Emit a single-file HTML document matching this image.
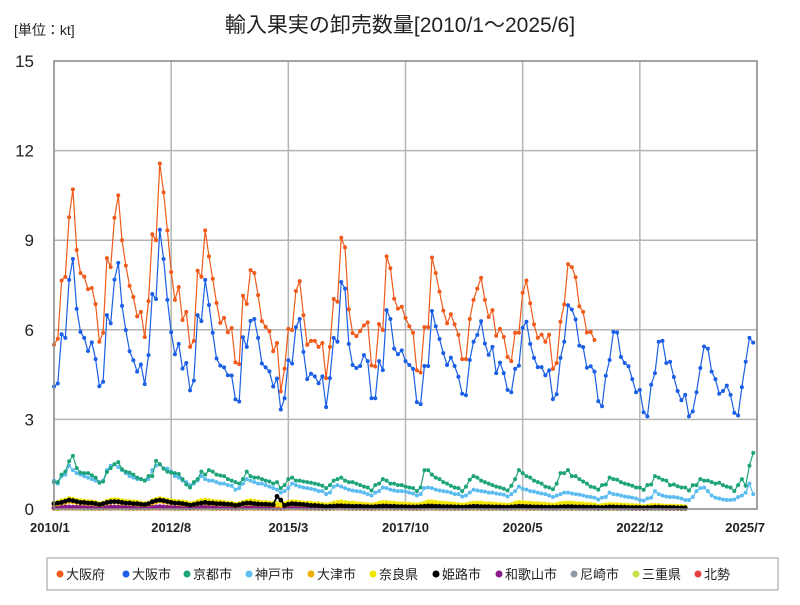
<!DOCTYPE html>
<html><head><meta charset="utf-8">
<style>
body{margin:0;background:#fff;width:800px;height:600px;overflow:hidden;font-family:"Liberation Sans","Noto Sans CJK JP",sans-serif;}
svg text{font-family:"Liberation Sans","Noto Sans CJK JP",sans-serif;}
</style></head>
<body>
<svg id="chart" width="800" height="600" xmlns="http://www.w3.org/2000/svg">
<text x="14" y="35" font-size="14" fill="#222">[単位：kt]</text>
<text x="400" y="32" font-size="21" text-anchor="middle" fill="#222">輸入果実の卸売数量[2010/1～2025/6]</text>
<g id="grid"></g>
<g id="series"></g>
<g id="axes"></g>
<g id="legend"></g>
</svg>
<script>
const seriesNames=["大阪府","大阪市","京都市","神戸市","大津市","奈良県","姫路市","和歌山市","尼崎市","三重県","北勢"];
const seriesColors=["#f05a1a","#1a5fe6","#1ea47a","#5cbcf0","#f0b000","#f2e600","#000000","#8a1a8a","#8c9aa8","#c6e04a","#e84040"];
const yTicks=[0,3,6,9,12,15];
const xTickLabels=["2010/1","2012/8","2015/3","2017/10","2020/5","2022/12","2025/7"];
const xTickIdx=[0,31,62,93,124,155,186];
const osakaFu=[5.5,5.7,7.65,7.77,9.77,10.7,8.67,7.9,7.78,7.36,7.4,6.86,
5.6,5.9,8.4,8.1,9.75,10.5,9.0,8.15,7.47,7.1,6.45,6.6,
5.76,6.96,9.2,9.0,11.57,10.6,9.33,7.93,7.0,7.43,6.33,6.6,
5.43,5.63,7.98,7.77,9.33,8.46,7.71,6.9,6.23,6.4,5.92,6.06,
4.91,4.85,7.14,6.87,8.0,7.9,7.16,6.29,6.1,5.95,5.28,5.56,
3.94,4.7,6.03,5.99,7.3,7.63,6.49,5.5,5.63,5.63,5.43,5.56,
4.38,5.43,7.03,6.94,9.08,8.76,6.69,5.89,5.79,5.96,6.15,6.25,
4.81,4.77,6.19,5.99,8.46,8.06,7.04,6.71,6.77,6.4,6.12,5.9,
4.64,4.57,6.09,6.09,8.42,7.9,7.28,6.64,6.22,6.52,6.18,5.83,
5.02,5.02,6.36,7.0,7.38,7.74,7.0,6.43,6.66,5.8,6.03,5.76,
5.09,4.95,5.9,5.9,7.24,7.65,6.89,6.18,5.73,5.84,5.6,5.84,
4.69,4.89,6.27,6.85,8.2,8.1,7.76,6.79,6.6,5.91,5.93,5.66];
const osakaShi=[4.1,4.2,5.85,5.73,7.67,8.37,6.7,5.93,5.73,5.29,5.58,5.02,
4.11,4.26,6.49,6.22,7.68,8.24,6.8,5.99,5.28,4.98,4.6,4.84,
4.18,5.15,7.2,7.03,9.35,8.37,7.0,5.92,5.18,5.53,4.7,4.89,
3.97,4.3,6.49,6.29,7.67,6.83,5.9,5.04,4.8,4.74,4.48,4.47,
3.67,3.6,5.75,5.43,6.3,6.36,5.73,4.87,4.74,4.61,4.1,4.37,
3.33,3.71,4.98,4.87,6.09,6.36,5.26,4.35,4.53,4.44,4.21,4.44,
3.41,4.38,5.73,5.6,7.6,7.38,5.53,4.82,4.72,4.79,5.15,4.95,
3.71,3.71,4.95,4.65,6.66,6.36,5.37,5.18,5.31,4.95,4.82,4.69,
3.58,3.51,4.79,4.79,6.63,6.12,5.69,5.22,4.82,5.07,4.79,4.43,
3.86,3.81,4.99,5.6,5.83,6.29,5.54,5.16,5.43,4.55,4.9,4.55,
3.99,3.91,4.69,4.8,6.07,6.27,5.53,5.06,4.75,4.75,4.48,4.64,
3.68,3.84,5.06,5.6,6.82,6.68,6.35,5.47,5.42,4.73,4.78,4.6,
3.61,3.44,4.46,4.99,5.93,5.91,5.09,4.89,4.78,4.35,3.91,3.99,
3.24,3.1,4.16,4.55,5.6,5.63,4.89,4.93,4.42,3.95,3.64,3.82,
3.1,3.27,3.91,4.72,5.44,5.37,4.6,4.35,3.86,3.95,4.13,3.82,
3.22,3.13,4.08,4.93,5.73,5.57];
const kyotoShi=[0.9,0.9,1.15,1.25,1.6,1.78,1.37,1.22,1.2,1.2,1.13,1.05,
0.88,0.92,1.24,1.37,1.5,1.57,1.33,1.25,1.22,1.15,1.05,1.0,
0.95,1.1,1.1,1.61,1.5,1.35,1.25,1.22,1.2,1.17,1.0,0.82,
0.72,0.9,1.0,1.25,1.15,1.3,1.25,1.15,1.12,1.1,1.0,0.95,
0.9,0.85,1.0,1.25,1.1,1.05,1.05,1.0,0.95,0.92,0.85,0.9,
0.7,0.8,1.0,1.05,0.95,0.95,0.92,0.9,0.88,0.85,0.82,0.78,
0.7,0.8,0.95,1.0,1.05,0.95,0.9,0.9,0.85,0.8,0.75,0.72,
0.62,0.8,0.85,1.0,0.95,0.85,0.85,0.8,0.8,0.75,0.72,0.7,
0.6,0.72,1.3,1.3,1.15,1.05,1.0,0.9,0.85,0.78,0.72,0.7,
0.6,0.75,0.98,1.1,1.05,0.95,0.9,0.85,0.8,0.75,0.72,0.68,
0.62,0.78,1.0,1.3,1.2,1.1,1.05,0.95,0.9,0.85,0.75,0.72,
0.66,0.85,1.2,1.2,1.3,1.1,1.1,1.0,0.92,0.85,0.75,0.72,
0.65,0.8,0.82,1.05,1.0,0.98,0.9,0.85,0.82,0.78,0.72,0.72,
0.64,0.8,0.82,1.1,1.05,0.98,0.95,0.8,0.82,0.76,0.72,0.72,
0.62,0.8,0.8,1.0,0.95,0.95,0.9,0.85,0.88,0.8,0.75,0.72,
0.6,0.8,1.0,0.78,1.45,1.88];
const kobeShi=[0.95,0.85,1.1,1.15,1.45,1.3,1.2,1.15,1.1,1.05,1.0,0.95,
0.9,0.95,1.3,1.45,1.5,1.4,1.3,1.2,1.1,1.05,1.0,1.0,
0.95,1.0,1.3,1.45,1.5,1.35,1.35,1.25,1.1,1.05,0.95,0.9,
0.8,0.85,0.95,1.1,1.0,0.95,0.95,0.9,0.85,0.85,0.8,0.78,
0.65,0.7,0.85,1.0,0.95,0.9,0.85,0.85,0.8,0.75,0.7,0.65,
0.55,0.6,0.7,0.85,0.8,0.75,0.72,0.7,0.68,0.65,0.6,0.6,
0.5,0.55,0.75,0.8,0.75,0.7,0.65,0.62,0.6,0.58,0.55,0.5,
0.45,0.55,0.6,0.72,0.7,0.65,0.62,0.6,0.6,0.58,0.55,0.52,
0.45,0.5,0.7,0.72,0.7,0.65,0.62,0.6,0.58,0.55,0.5,0.5,
0.42,0.45,0.55,0.65,0.62,0.6,0.58,0.55,0.55,0.52,0.5,0.48,
0.42,0.5,0.6,0.75,0.68,0.65,0.6,0.58,0.55,0.52,0.5,0.45,
0.4,0.45,0.5,0.55,0.55,0.52,0.5,0.48,0.45,0.42,0.4,0.38,
0.32,0.38,0.4,0.55,0.5,0.48,0.45,0.42,0.4,0.38,0.35,0.3,
0.28,0.35,0.38,0.6,0.5,0.45,0.42,0.4,0.4,0.38,0.35,0.3,
0.3,0.4,0.6,0.7,0.72,0.6,0.45,0.38,0.35,0.32,0.3,0.3,
0.32,0.4,0.45,0.55,0.85,0.5];
const otsuShi=[.15,.17,.2,.22,.25,.24,.22,.2,.2,.18,.18,.16,
.14,.16,.2,.22,.24,.22,.2,.19,.18,.17,.16,.15,
.14,.16,.2,.24,.26,.24,.22,.2,.19,.18,.16,.15,
.13,.14,.17,.2,.2,.19,.18,.17,.16,.16,.15,.14,
.12,.13,.16,.18,.18,.17,.16,.15,.15,.14,.13,.12,
.11,.12,.15,.17,.16,.15,.14,.14,.13,.13,.12,.11,
.1,.12,.14,.16,.16,.15,.14,.13,.13,.12,.12,.11,
.1,.11,.14,.15,.15,.14,.13,.13,.12,.12,.11,.1,
.1,.11,.14,.16,.16,.15,.14,.13,.13,.12,.11,.1,
.09,.1,.13,.14,.14,.13,.13,.12,.12,.11,.11,.1,
.09,.1,.13,.15,.15,.14,.13,.13,.12,.12,.11,.1,
.09,.1,.12,.14,.14,.13,.12,.12,.11,.11,.1,.1,
.07,.08,.1,.11,.11,.1,.1,.09,.09,.08,.08,.07,
.06,.07,.08,.09,.09,.08,.08,.08,.07,.07,.07,.06];
const naraKen=[.2,.22,.28,.3,.35,.33,.3,.28,.26,.25,.24,.22,
.18,.2,.26,.3,.32,.3,.28,.26,.25,.24,.22,.2,
.18,.2,.28,.32,.35,.32,.3,.28,.26,.25,.24,.22,
.18,.2,.25,.28,.3,.28,.26,.25,.24,.22,.2,.2,
.16,.18,.22,.26,.28,.26,.24,.22,.22,.2,.2,.18,
.15,.18,.22,.25,.24,.22,.2,.2,.2,.18,.18,.16,
.14,.16,.2,.22,.24,.22,.2,.2,.18,.18,.16,.15,
.14,.16,.2,.22,.22,.2,.2,.18,.18,.17,.16,.15,
.14,.16,.2,.24,.24,.22,.2,.2,.18,.18,.16,.15,
.14,.15,.18,.2,.2,.2,.18,.18,.17,.16,.15,.14,
.13,.15,.2,.22,.22,.2,.2,.18,.18,.17,.16,.15,
.13,.15,.18,.2,.2,.2,.18,.18,.17,.16,.15,.14,
.1,.12,.14,.15,.15,.14,.14,.13,.12,.12,.11,.1,
.08,.1,.12,.12,.12,.11,.1,.1,.1,.09,.09,.08];
const himejiShi=[.18,.2,.22,.26,.3,.28,.25,.22,.22,.2,.2,.18,
.15,.18,.22,.24,.25,.24,.22,.2,.2,.18,.18,.16,
.15,.18,.24,.28,.3,.28,.25,.22,.2,.2,.18,.16,
.13,.15,.18,.2,.22,.2,.2,.18,.18,.17,.16,.15,
.12,.14,.18,.2,.2,.18,.17,.16,.16,.15,.14,.42,
.3,.12,.16,.18,.17,.16,.15,.14,.12,.12,.11,.1,
.08,.09,.1,.11,.11,.1,.1,.09,.09,.09,.08,.08,
.07,.08,.09,.1,.1,.09,.09,.08,.08,.08,.07,.07,
.07,.08,.09,.1,.1,.09,.09,.08,.08,.08,.07,.07,
.06,.07,.08,.09,.09,.08,.08,.08,.07,.07,.07,.06,
.06,.07,.08,.09,.09,.08,.08,.07,.07,.07,.06,.06,
.06,.06,.07,.08,.08,.08,.07,.07,.07,.06,.06,.06,
.05,.05,.06,.07,.07,.06,.06,.06,.05,.05,.05,.05,
.04,.05,.05,.06,.06,.05,.05,.05,.05,.04,.04,.04];
const wakayamaShi=[.05,.05,.06,.07,.07,.06,.06,.06,.06,.05,.05,.05,
.05,.05,.06,.07,.07,.06,.06,.06,.05,.05,.05,.05,
.05,.05,.06,.07,.08,.07,.06,.06,.05,.05,.05,.05,
.04,.05,.06,.06,.07,.06,.06,.05,.05,.05,.05,.04,
.04,.05,.05,.06,.06,.06,.05,.05,.05,.05,.04,.04,
.04,.05,.06,.07,.06,.06,.05,.05,.05,.05,.04,.04,
.04,.05,.06,.07,.07,.06,.06,.05,.05,.05,.04,.04,
.04,.05,.06,.07,.06,.06,.05,.05,.05,.05,.04,.04,
.04,.05,.06,.07,.07,.06,.06,.05,.05,.05,.04,.04,
.04,.04,.05,.06,.06,.05,.05,.05,.05,.04,.04,.04,
.04,.05,.06,.07,.06,.06,.05,.05,.05,.04,.04,.04,
.04,.04,.05,.06,.06,.05,.05,.05,.04,.04,.04,.04,
.03,.04,.04,.05,.05,.04,.04,.04,.04,.03,.03,.03,
.03,.03,.04,.04,.04,.04,.03,.03,.03,.03,.03,.03];
const amagasakiShi=[.04,.04,.05,.05,.06,.05,.05,.05,.04,.04,.04,.04,
.04,.04,.05,.05,.05,.05,.05,.04,.04,.04,.04,.04,
.04,.04,.05,.06,.06,.05,.05,.05,.04,.04,.04,.04,
.03,.04,.04,.05,.05,.05,.04,.04,.04,.04,.03,.03,
.03,.03,.04,.04,.05,.04,.04,.04,.03,.03,.03,.03,
.03,.03,.04,.04,.04,.04,.04,.03,.03,.03,.03,.03,
.03,.03,.04,.04,.04,.04,.03,.03,.03,.03,.03,.03,
.03,.03,.03,.04,.04,.04,.03,.03,.03,.03,.03,.03,
.03,.03,.03,.04,.04,.04,.03,.03,.03,.03,.03,.03,
.02,.03,.03,.04,.04,.03,.03,.03,.03,.03,.02,.02,
.02,.03,.03,.04,.04,.03,.03,.03,.03,.02,.02,.02,
.02,.02,.03,.03,.03,.03,.03,.02,.02,.02,.02,.02,
.02,.02,.02,.03,.03,.02,.02,.02,.02,.02,.02,.02,
.02,.02,.02,.02,.02,.02,.02,.02,.02,.02,.02,.02];
const mieKen=[.02,.02,.03,.03,.03,.03,.03,.02,.02,.02,.02,.02,
.02,.02,.03,.03,.03,.03,.02,.02,.02,.02,.02,.02,
.02,.02,.03,.03,.04,.03,.03,.02,.02,.02,.02,.02,
.02,.02,.02,.03,.03,.03,.02,.02,.02,.02,.02,.02,
.02,.02,.02,.03,.03,.02,.02,.02,.02,.02,.02,.02,
.02,.02,.02,.03,.03,.02,.02,.02,.02,.02,.02,.02,
.02,.02,.02,.03,.03,.02,.02,.02,.02,.02,.02,.02,
.02,.02,.02,.02,.02,.02,.02,.02,.02,.02,.02,.02,
.02,.02,.02,.03,.03,.02,.02,.02,.02,.02,.02,.02,
.01,.02,.02,.02,.02,.02,.02,.02,.02,.01,.01,.01,
.01,.02,.02,.02,.02,.02,.02,.02,.01,.01,.01,.01,
.01,.01,.02,.02,.02,.02,.01,.01,.01,.01,.01,.01,
.01,.01,.01,.02,.02,.01,.01,.01,.01,.01,.01,.01,
.01,.01,.01,.01,.01,.01,.01,.01,.01,.01,.01,.01];
const hokusei=[.01,.01,.02,.02,.02,.02,.02,.01,.01,.01,.01,.01,
.01,.01,.02,.02,.02,.02,.01,.01,.01,.01,.01,.01,
.01,.01,.02,.02,.02,.02,.02,.01,.01,.01,.01,.01,
.01,.01,.01,.02,.02,.02,.01,.01,.01,.01,.01,.01,
.01,.01,.01,.02,.02,.01,.01,.01,.01,.01,.01,.01,
.01,.01,.01,.02,.02,.01,.01,.01,.01,.01,.01,.01,
.01,.01,.01,.02,.02,.01,.01,.01,.01,.01,.01,.01,
.01,.01,.01,.01,.01,.01,.01,.01,.01,.01,.01,.01,
.01,.01,.01,.02,.02,.01,.01,.01,.01,.01,.01,.01,
.01,.01,.01,.01,.01,.01,.01,.01,.01,.01,.01,.01,
.01,.01,.01,.01,.01,.01,.01,.01,.01,.01,.01,.01,
.01,.01,.01,.01,.01,.01,.01,.01,.01,.01,.01,.01,
.01,.01,.01,.01,.01,.01,.01,.01,.01,.01,.01,.01,
.01,.01,.01,.01,.01,.01,.01,.01,.01,.01,.01,.01];

const NS="http://www.w3.org/2000/svg";
const L=54,R=757,T=61,B=509,YMAX=15,NCAT=186;
function xPos(i){return L+i*(R-L)/NCAT;}
function yPos(v){return B-v*(B-T)/YMAX;}
function mk(tag,attrs,parent){const e=document.createElementNS(NS,tag);for(const k in attrs)e.setAttribute(k,attrs[k]);parent.appendChild(e);return e;}
const grid=document.getElementById('grid'),axes=document.getElementById('axes'),sg=document.getElementById('series'),lg=document.getElementById('legend');

yTicks.forEach(t=>{
  const ln=mk('line',{x1:L,x2:R,y1:yPos(t),y2:yPos(t),stroke:'#b4b4b4','stroke-width':1.5},grid);
  
  
  const tx=mk('text',{x:34,y:yPos(t)+6,'font-size':17,'text-anchor':'end',fill:'#222'},axes);
  tx.textContent=t;
  
  
});
xTickIdx.forEach((ix,k)=>{
  const ln=mk('line',{x1:xPos(ix),x2:xPos(ix),y1:T,y2:B,stroke:'#b4b4b4','stroke-width':1.5},grid);
  
  
  let anchor=k===0?'start':(k===xTickIdx.length-1?'end':'middle');
  let xx=k===0?xPos(ix)-24:(k===xTickIdx.length-1?xPos(ix)+8:xPos(ix));
  const tx=mk('text',{x:xx,y:532,'font-size':13,'font-weight':'bold','text-anchor':anchor,fill:'#222'},axes);
  tx.textContent=xTickLabels[k];
  
  
});
const frame=mk('rect',{x:L,y:T,width:R-L,height:B-T,fill:'none',stroke:'#909090','stroke-width':1.5},axes);



const allSeries=[osakaFu,osakaShi,kyotoShi,kobeShi,otsuShi,naraKen,himejiShi,wakayamaShi,amagasakiShi,mieKen,hokusei];
const drawOrder=[10,9,8,7,4,5,6,3,2,0,1];
drawOrder.forEach(s=>{
  const data=allSeries[s],col=seriesColors[s];
  const minor=s>=4;
  const g=mk('g',{},sg);
  
  
  const pts=data.map((v,i)=>xPos(i).toFixed(1)+','+yPos(v).toFixed(1)).join(' ');
  const pl=mk('polyline',{points:pts,fill:'none',stroke:col,'stroke-width':minor?1.8:1.2},g);
  
  
  data.forEach((v,i)=>{
    const c=mk('circle',{cx:xPos(i),cy:yPos(v),r:minor?2.4:2,fill:col},g);
    
    
  });
});

const lbox=mk('rect',{x:47,y:558,width:731,height:32,fill:'#fff',stroke:'#999','stroke-width':1},lg);


const lx=[56,122,183,245,307,369,432,495,570,632,694];
seriesNames.forEach((n,i)=>{
  const g=mk('g',{},lg);
  
  
  mk('circle',{cx:lx[i]+4,cy:574,r:3.5,fill:seriesColors[i]},g);
  const t=mk('text',{x:lx[i]+10,y:579,'font-size':13,fill:'#222'},g);
  t.textContent=n;
});
</script>
</body></html>
